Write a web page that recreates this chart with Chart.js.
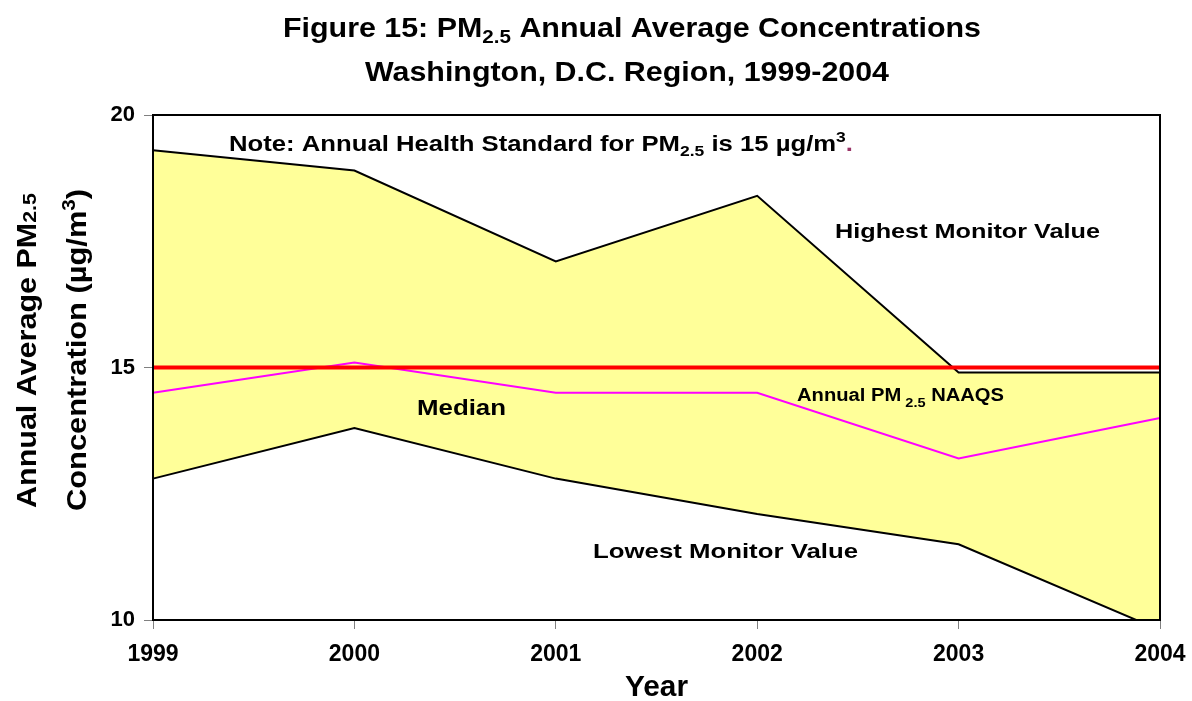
<!DOCTYPE html>
<html>
<head>
<meta charset="utf-8">
<script src="https://cdn.jsdelivr.net/npm/chart.js@4"></script>
<style>
  html, body { margin: 0; padding: 0; background: #fff; }
  #wrap { width: 1192px; height: 701px; }
</style>
</head>
<body>
<div id="wrap"><canvas id="pmChart" width="1192" height="701"></canvas></div>
<script>
// data
const years = ['1999', '2000', '2001', '2002', '2003', '2004'];
const highest = [19.3, 18.9, 17.1, 18.4, 14.9, 14.9];
const median = [14.5, 15.1, 14.5, 14.5, 13.2, 14.0];
const lowest = [12.8, 13.8, 12.8, 12.1, 11.5, 9.8];
const naaqs = [15, 15, 15, 15, 15, 15];
const yTicks = [10, 15, 20];

const FONT = '"Liberation Sans", Arial, sans-serif';

// draw a run of text pieces (normal / sub / sup), squeezed or stretched to a given width
function richText(ctx, parts, x, y, width, opts) {
    opts = opts || {};
    let natural = 0;
    parts.forEach(p => {
        ctx.font = 'bold ' + p.size + 'px ' + FONT;
        p.w = ctx.measureText(p.text).width;
        natural += p.w;
    });
    const sx = width ? width / natural : 1;
    ctx.save();
    ctx.translate(x, y);
    if (opts.rotate) ctx.rotate(-Math.PI / 2);
    ctx.scale(sx, 1);
    ctx.textBaseline = 'alphabetic';
    ctx.textAlign = 'left';
    let cx = 0;
    parts.forEach(p => {
        ctx.font = 'bold ' + p.size + 'px ' + FONT;
        ctx.fillStyle = p.color || '#000';
        ctx.fillText(p.text, cx, p.dy || 0);
        cx += p.w;
    });
    ctx.restore();
}

const textPlugin = {
    id: 'textPlugin',
    afterDraw(chart) {
        const ctx = chart.ctx;
        const a = chart.chartArea;

        // plot frame
        ctx.save();
        ctx.strokeStyle = '#000';
        ctx.lineWidth = 2;
        ctx.strokeRect(a.left, a.top, a.right - a.left, a.bottom - a.top);
        ctx.restore();

        // title
        richText(ctx, [
            { text: 'Figure 15: PM', size: 28 },
            { text: '2.5', size: 19, dy: 6 },
            { text: ' Annual Average Concentrations', size: 28 }
        ], 283, 37, 698);
        richText(ctx, [{ text: 'Washington, D.C. Region, 1999-2004', size: 28 }], 365, 81, 524);

        // note
        richText(ctx, [
            { text: 'Note: Annual Health Standard for PM', size: 22 },
            { text: '2.5', size: 15, dy: 5 },
            { text: ' is 15 \u00b5g/m', size: 22 },
            { text: '3', size: 15, dy: -9 },
            { text: '.', size: 22, color: '#993366' }
        ], 229, 151, 624);

        // series labels
        richText(ctx, [{ text: 'Highest Monitor Value', size: 21 }], 835, 238, 265);
        richText(ctx, [{ text: 'Median', size: 22 }], 417, 415, 89);
        richText(ctx, [
            { text: 'Annual PM', size: 18 },
            { text: ' 2.5', size: 13, dy: 6 },
            { text: ' NAAQS', size: 18 }
        ], 797, 401, 207);
        richText(ctx, [{ text: 'Lowest Monitor Value', size: 21 }], 593, 558, 265);

        // axis titles
        richText(ctx, [{ text: 'Year', size: 29 }], 625, 696, 63);
        richText(ctx, [
            { text: 'Annual Average PM', size: 27 },
            { text: '2.5', size: 19 }
        ], 36, 508, 315, { rotate: true });
        richText(ctx, [
            { text: 'Concentration (\u00b5g/m', size: 27 },
            { text: '3', size: 18, dy: -11 },
            { text: ')', size: 27 }
        ], 86, 511, 322, { rotate: true });
    }
};

const ctx = document.getElementById('pmChart').getContext('2d');
new Chart(ctx, {
    type: 'line',
    data: {
        labels: years,
        datasets: [
            {
                label: 'Annual PM2.5 NAAQS',
                data: naaqs,
                borderColor: '#FF0000',
                borderWidth: 4,
                pointRadius: 0,
                fill: false
            },
            {
                label: 'Median',
                data: median,
                borderColor: '#FF00FF',
                borderWidth: 2,
                pointRadius: 0,
                fill: false
            },
            {
                label: 'Lowest Monitor Value',
                data: lowest,
                borderColor: '#000000',
                borderWidth: 2,
                pointRadius: 0,
                fill: false
            },
            {
                label: 'Highest Monitor Value',
                data: highest,
                borderColor: '#000000',
                borderWidth: 2,
                pointRadius: 0,
                backgroundColor: '#FFFF99',
                fill: '-1'
            }
        ]
    },
    options: {
        responsive: false,
        animation: false,
        layout: { padding: { left: 0, top: 115, right: 32, bottom: 0 } },
        plugins: {
            legend: { display: false },
            tooltip: { enabled: false },
            title: { display: false }
        },
        scales: {
            x: {
                offset: false,
                grid: { offset: false, drawOnChartArea: false, tickLength: 9, color: '#808080' },
                border: { color: '#000', width: 2 },
                ticks: {
                    color: '#000',
                    padding: 12,
                    maxRotation: 0,
                    font: { family: FONT, size: 23, weight: 'bold' }
                },
                afterFit(scale) {
                    scale.height = 81;
                    scale.paddingLeft = 0;
                    scale.paddingRight = 0;
                }
            },
            y: {
                min: 10,
                max: 20,
                afterBuildTicks(scale) { scale.ticks = yTicks.map(v => ({ value: v })); },
                grid: { drawOnChartArea: false, tickLength: 9, color: '#808080' },
                border: { color: '#000', width: 2 },
                ticks: {
                    color: '#000',
                    padding: 9,
                    font: { family: FONT, size: 22, weight: 'bold' }
                },
                afterFit(scale) {
                    scale.width = 153;
                    scale.paddingTop = 0;
                    scale.paddingBottom = 0;
                }
            }
        }
    },
    plugins: [textPlugin]
});
</script>
</body>
</html>
